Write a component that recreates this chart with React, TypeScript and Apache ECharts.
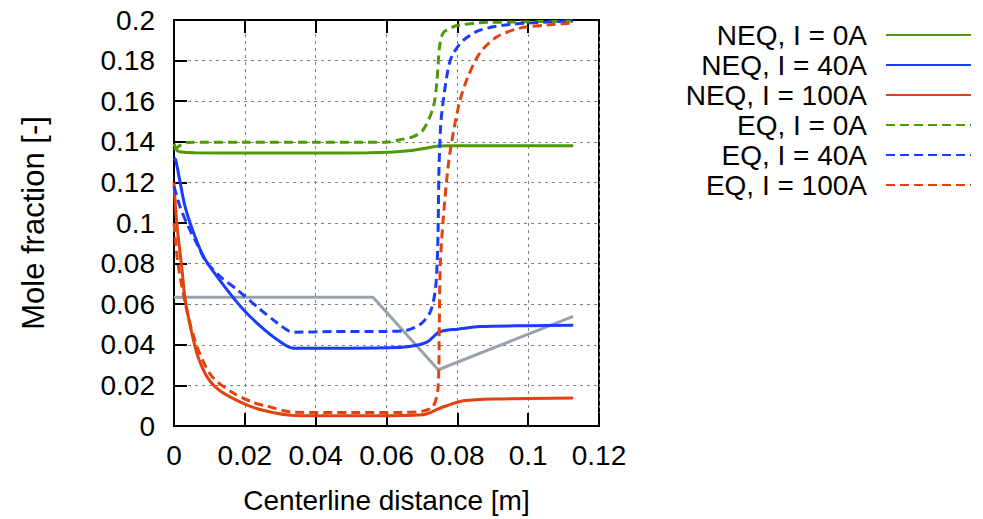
import React, { useEffect, useRef } from "react";
import * as echarts from "echarts";

const seriesNames = [
  "NEQ, I = 0A",
  "NEQ, I = 40A",
  "NEQ, I = 100A",
  "EQ, I = 0A",
  "EQ, I = 40A",
  "EQ, I = 100A",
];
const seriesColors = ["#4e9a06", "#1a3cff", "#e2420d", "#4e9a06", "#1a3cff", "#e2420d"];
const seriesDashed = [false, false, false, true, true, true];

const neq0X = [0, 0.001, 0.003, 0.006, 0.02, 0.04, 0.055, 0.062, 0.067, 0.071, 0.074, 0.078, 0.09, 0.1127];
const neq0Y = [0.139, 0.1355, 0.1348, 0.1346, 0.1345, 0.1345, 0.1346, 0.135, 0.1357, 0.1368, 0.1378, 0.138, 0.138, 0.138];

const neq40X = [0, 0.0005, 0.0031, 0.0059, 0.0088, 0.0149, 0.0195, 0.0243, 0.029, 0.0337, 0.045, 0.06, 0.066, 0.0714, 0.0746, 0.077, 0.0799, 0.0864, 0.1, 0.1127];
const neq40Y = [0.132, 0.131, 0.1083, 0.0935, 0.082, 0.0673, 0.0575, 0.0493, 0.0427, 0.0383, 0.0383, 0.0385, 0.039, 0.0413, 0.046, 0.0472, 0.0477, 0.049, 0.0494, 0.0496];

const neq100X = [0, 0.0005, 0.0012, 0.0022, 0.0031, 0.005, 0.0068, 0.0096, 0.0135, 0.02, 0.0257, 0.0337, 0.05, 0.065, 0.071, 0.0746, 0.077, 0.0817, 0.0911, 0.1127];
const neq100Y = [0.12, 0.106, 0.093, 0.078, 0.063, 0.046, 0.034, 0.0235, 0.0167, 0.0108, 0.0075, 0.0052, 0.005, 0.0052, 0.0058, 0.0084, 0.01, 0.0124, 0.0133, 0.0138];

const eq0X = [0, 0.002, 0.004, 0.02, 0.04, 0.06, 0.0638, 0.0676, 0.0704, 0.0732, 0.0742, 0.075, 0.076, 0.0788, 0.0808, 0.0864, 0.0958, 0.1127];
const eq0Y = [0.136, 0.1385, 0.1397, 0.1398, 0.1398, 0.1398, 0.141, 0.1426, 0.146, 0.157, 0.169, 0.187, 0.1936, 0.1966, 0.1975, 0.1987, 0.199, 0.1995];

const eq40X = [0, 0.0017, 0.004, 0.0068, 0.0092, 0.0135, 0.0177, 0.0243, 0.029, 0.0337, 0.045, 0.06, 0.065, 0.0695, 0.0723, 0.0737, 0.0743, 0.0746, 0.0748, 0.0752, 0.0756, 0.077, 0.0784, 0.0817, 0.0864, 0.0958, 0.1127];
const eq40Y = [0.118, 0.108, 0.0984, 0.0886, 0.0806, 0.073, 0.0673, 0.0575, 0.051, 0.0462, 0.0465, 0.0466, 0.0469, 0.05, 0.056, 0.066, 0.08, 0.1, 0.125, 0.145, 0.154, 0.172, 0.182, 0.19, 0.195, 0.198, 0.1995];

const eq100X = [0, 0.0012, 0.004, 0.0068, 0.0106, 0.0163, 0.022, 0.0257, 0.0337, 0.05, 0.065, 0.07, 0.0732, 0.0746, 0.0749, 0.0752, 0.076, 0.0774, 0.0788, 0.0808, 0.083, 0.0864, 0.0911, 0.0977, 0.1053, 0.1127];
const eq100Y = [0.1, 0.079, 0.054, 0.0378, 0.0247, 0.0167, 0.0118, 0.01, 0.0068, 0.0066, 0.0067, 0.0072, 0.0098, 0.0197, 0.05, 0.08, 0.1017, 0.1278, 0.144, 0.1607, 0.172, 0.1838, 0.1916, 0.196, 0.1975, 0.1985];

const refX = [0, 0.0562, 0.0746, 0.1127];
const refY = [0.0634, 0.0634, 0.0277, 0.054];

const seriesX = [neq0X, neq40X, neq100X, eq0X, eq40X, eq100X];
const seriesY = [neq0Y, neq40Y, neq100Y, eq0Y, eq40Y, eq100Y];

const legendTops = [15, 45, 75, 105, 135, 165];

const FONT = "'Liberation Sans', Arial, Helvetica, sans-serif";

function fmt(v: number) {
  return String(parseFloat(v.toFixed(2)));
}

export default function App() {
  const ref = useRef<HTMLDivElement>(null);
  useEffect(() => {
    if (!ref.current) return;
    const chart = echarts.init(ref.current, null, { renderer: "svg" });
    const zip = (xs: number[], ys: number[]) => xs.map((x, i) => [x, ys[i]]);
    const series: any[] = [
      {
        name: "ref",
        type: "line",
        data: zip(refX, refY),
        symbol: "none",
        lineStyle: { color: "#98a2ad", width: 3 },
        itemStyle: { color: "#98a2ad" },
        z: 1,
      },
    ];
    seriesNames.forEach((n, i) => {
      series.push({
        name: n,
        type: "line",
        data: zip(seriesX[i], seriesY[i]),
        symbol: "none",
        smooth: 0.3,
        lineStyle: {
          color: seriesColors[i],
          width: 3,
          type: seriesDashed[i] ? [9, 5] : "solid",
        },
        itemStyle: { color: seriesColors[i] },
        z: 2,
      });
    });
    const legends = seriesNames.map((n, i) => ({
      data: [n],
      right: 6,
      top: legendTops[i],
      orient: "horizontal",
      align: "right",
      itemWidth: 85,
      itemHeight: 14,
      selectedMode: false,
      itemStyle: { opacity: 0 },
      textStyle: { fontSize: 28, lineHeight: 30, fontFamily: FONT, color: "#000", padding: [0, 14, 0, 0] },
    }));
    chart.setOption({
      animation: false,
      backgroundColor: "#fff",
      textStyle: { fontFamily: FONT },
      grid: { left: 174, right: 384, top: 20, bottom: 92, show: true, borderColor: "#000", borderWidth: 2, backgroundColor: "transparent" },
      legend: legends,
      xAxis: [
        {
          type: "value",
          min: 0,
          max: 0.12,
          interval: 0.02,
          name: "Centerline distance [m]",
          nameLocation: "middle",
          nameGap: 60,
          nameTextStyle: { fontSize: 28, color: "#000", fontFamily: FONT },
          axisLine: { show: true, lineStyle: { color: "#000", width: 2 } },
          axisTick: { show: true, inside: true, length: 13, lineStyle: { color: "#000", width: 2 } },
          axisLabel: { fontSize: 28, color: "#000", margin: 15, formatter: fmt, fontFamily: FONT },
          splitLine: { show: true, lineStyle: { color: "#808080", width: 1, type: [3, 4] } },
        },
        {
          type: "value",
          position: "top",
          min: 0,
          max: 0.12,
          interval: 0.02,
          axisLine: { show: true, lineStyle: { color: "#000", width: 2 } },
          axisTick: { show: true, inside: true, length: 13, lineStyle: { color: "#000", width: 2 } },
          axisLabel: { show: false },
          splitLine: { show: false },
        },
      ],
      yAxis: [
        {
          type: "value",
          min: 0,
          max: 0.2,
          interval: 0.02,
          name: "Mole fraction [-]",
          nameLocation: "middle",
          nameGap: 125,
          nameRotate: 90,
          nameTextStyle: { fontSize: 31, color: "#000", fontFamily: FONT },
          axisLine: { show: true, lineStyle: { color: "#000", width: 2 } },
          axisTick: { show: true, inside: true, length: 13, lineStyle: { color: "#000", width: 2 } },
          axisLabel: { fontSize: 28, color: "#000", margin: 19, formatter: fmt, fontFamily: FONT },
          splitLine: { show: true, lineStyle: { color: "#808080", width: 1, type: [3, 4] } },
        },
      ],
      series,
    });
    return () => chart.dispose();
  }, []);
  return <div ref={ref} style={{ width: 983, height: 519, position: "absolute", left: 0, top: 0 }} />;
}
